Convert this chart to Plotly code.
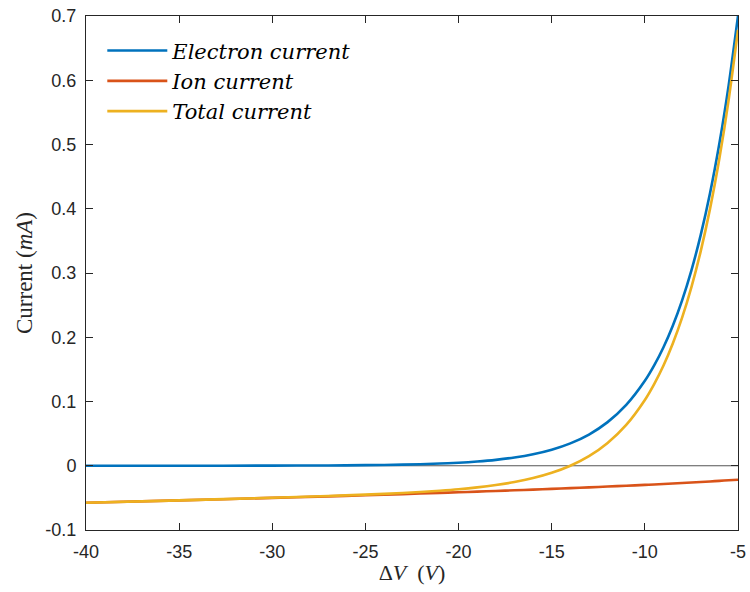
import plotly.graph_objects as go

# Probe bias (V)
delta_v = [-40, -35, -30, -27, -25, -23, -21, -20, -19, -18, -17, -16, -15, -14,
           -13, -12, -11, -10, -9.5, -9, -8.5, -8, -7.5, -7, -6.5, -6, -5.5, -5]

# Currents (mA)
electron_current = [0.0000, 0.0000, 0.0002, 0.0005, 0.0009, 0.0017, 0.0034, 0.0047,
                    0.0066, 0.0092, 0.0128, 0.0179, 0.0250, 0.0349, 0.0486, 0.0679,
                    0.0947, 0.1322, 0.1562, 0.1845, 0.2180, 0.2575, 0.3042, 0.3594,
                    0.4246, 0.5016, 0.5925, 0.7000]
ion_current = [-0.0575, -0.0539, -0.0500, -0.0476, -0.0459, -0.0441, -0.0422, -0.0413,
               -0.0403, -0.0392, -0.0382, -0.0371, -0.0360, -0.0349, -0.0337, -0.0324,
               -0.0311, -0.0298, -0.0291, -0.0284, -0.0276, -0.0269, -0.0261, -0.0253,
               -0.0244, -0.0235, -0.0226, -0.0217]
total_current = [-0.0575, -0.0539, -0.0498, -0.0471, -0.0450, -0.0424, -0.0388, -0.0366,
                 -0.0337, -0.0300, -0.0254, -0.0192, -0.0110, 0.0000, 0.0149, 0.0355,
                 0.0636, 0.1024, 0.1271, 0.1561, 0.1904, 0.2306, 0.2781, 0.3341,
                 0.4002, 0.4781, 0.5699, 0.6783]

series_names = ["Electron current", "Ion current", "Total current"]
series_colors = ["#0072BD", "#D95319", "#EDB120"]

x_ticks = [-40, -35, -30, -25, -20, -15, -10, -5]
x_tick_text = ["-40", "-35", "-30", "-25", "-20", "-15", "-10", "-5"]
y_ticks = [-0.1, 0, 0.1, 0.2, 0.3, 0.4, 0.5, 0.6, 0.7]
y_tick_text = ["-0.1", "0", "0.1", "0.2", "0.3", "0.4", "0.5", "0.6", "0.7"]

serif = "Liberation Serif"
legend_font = "DejaVu Serif"
sans = "Liberation Sans"
axis_color = "#262626"

fig = go.Figure()

# zero reference line
fig.add_trace(go.Scatter(x=[x_ticks[0], x_ticks[-1]], y=[0, 0], mode="lines",
                         line=dict(color="#555555", width=1.2),
                         showlegend=False, hoverinfo="skip"))

for name, ys, col in zip(series_names, [electron_current, ion_current, total_current],
                         series_colors):
    fig.add_trace(go.Scatter(
        x=delta_v, y=ys, mode="lines", name=f"<i>{name}</i>",
        line=dict(color=col, width=2.6, shape="spline", smoothing=0.8),
    ))

axis_common = dict(
    showgrid=False, zeroline=False, showline=True, linecolor=axis_color,
    linewidth=1, mirror="ticks", ticks="inside", ticklen=7, tickwidth=1,
    tickcolor=axis_color, automargin=False,
    tickfont=dict(family=sans, size=18, color=axis_color),
)

fig.update_layout(
    width=750, height=592,
    margin=dict(l=86, r=12, t=16, b=62),
    paper_bgcolor="white", plot_bgcolor="white",
    xaxis=dict(range=[-40, -5], tickvals=x_ticks, ticktext=x_tick_text,
               ticklabelstandoff=5,
               title=dict(text="Δ<i>V</i>  (<i>V</i>)", standoff=4,
                          font=dict(family=serif, size=22, color=axis_color)),
               **axis_common),
    yaxis=dict(range=[-0.1, 0.7], tickvals=y_ticks, ticktext=y_tick_text,
               ticklabelstandoff=5,
               title=dict(text="Current (<i>mA</i>)", standoff=6,
                          font=dict(family=serif, size=23, color=axis_color)),
               **axis_common),
    legend=dict(x=0.025, y=0.972, xanchor="left", yanchor="top",
                bgcolor="rgba(0,0,0,0)", borderwidth=0, itemwidth=60,
                font=dict(family=legend_font, size=21, color="#000000"),
                tracegroupgap=0),
    showlegend=True,
)

fig.write_html("out.html")
